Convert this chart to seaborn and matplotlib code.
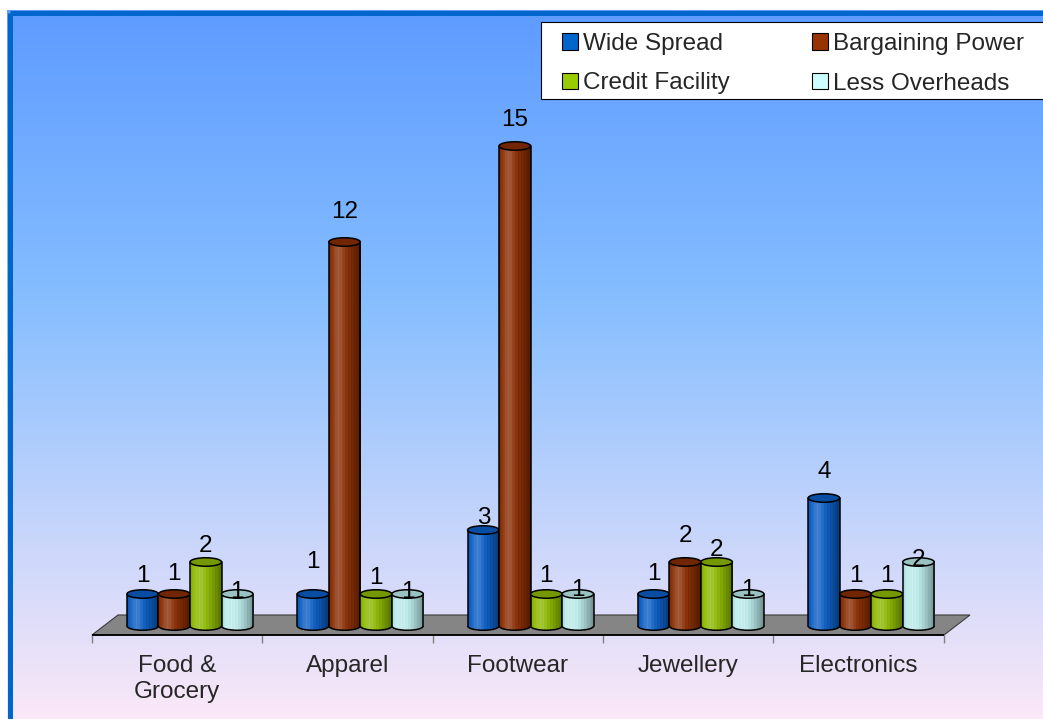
import numpy as np
import pandas as pd
import seaborn as sns
import matplotlib
matplotlib.use("Agg")
import matplotlib.pyplot as plt
from matplotlib.patches import Ellipse, Polygon, Rectangle, Patch, Arc
from matplotlib.colors import to_rgb

# ---------------- data ----------------
categories = ["Food &\nGrocery", "Apparel", "Footwear", "Jewellery", "Electronics"]
series_names = ["Wide Spread", "Bargaining Power", "Credit Facility", "Less Overheads"]
wide_spread = [1, 1, 3, 1, 4]
bargaining_power = [1, 12, 15, 2, 1]
credit_facility = [2, 1, 1, 2, 1]
less_overheads = [1, 1, 1, 1, 2]

# ---------------- style ----------------
legend_colors = ["#0066cc", "#993300", "#99cc00", "#ccffff"]
bar_colors = ["#0a5ec6", "#8a2d02", "#8eba00", "#bcecec"]
# how far (px) each value label sits above its bar top (style only)
label_lift = [[21, 35, 14, 22, 29],
              [23, 33, 29, 29, 21],
              [18, 18, 21, 15, 20],
              [5, 5, 6, 6, 5]]

values = [wide_spread, bargaining_power, credit_facility, less_overheads]
df = pd.DataFrame({
    "category": [c for s in series_names for c in categories],
    "series": [s for s in series_names for c in categories],
    "value": [v for vals in values for v in vals],
})

sns.set_style("white")
plt.rcParams["font.family"] = ["Liberation Sans", "DejaVu Sans"]

W, H = 1043, 719
fig = plt.figure(figsize=(W / 100, H / 100), dpi=100)
fig.patch.set_facecolor("white")

# ---------------- background (gradient + blue frame) ----------------
bg = fig.add_axes([0, 0, 1, 1])
bg.set_zorder(-1)
bg.axis("off")
ys = np.linspace(10, H, 500)
stops_y = [10, 300, H]
stops_c = [to_rgb("#5e9bff"), to_rgb("#86beff"), to_rgb("#fbe8f8")]
grad = np.stack([np.interp(ys, stops_y, [c[k] for c in stops_c]) for k in range(3)], axis=1)
bg.imshow(grad[:, None, :], extent=(7, W, H, 10), aspect="auto", interpolation="bilinear")
bg.add_patch(Rectangle((9.5, 12.5), 1200, 900, fill=False, lw=3.6, edgecolor="#0066cc"))
bg.add_patch(Rectangle((540.5, 21.5), 600, 77, facecolor="white", edgecolor="black", lw=0.8))
bg.set_xlim(0, W)
bg.set_ylim(H, 0)

# ---------------- main axes ----------------
PXU = 32.0          # pixels per value unit
Y0 = 626.0          # pixel row of zero
XC0 = 190.0         # pixel column of category 0
PXC = 170.3         # pixels per category
ax_left_px, ax_right_px = XC0 - 0.7 * PXC, XC0 + 4.7 * PXC
ax_top_px, ax_bot_px = 15.0, 643.0
ax = fig.add_axes([ax_left_px / W, 1 - ax_bot_px / H,
                   (ax_right_px - ax_left_px) / W, (ax_bot_px - ax_top_px) / H])

sns.barplot(data=df, x="category", y="value", hue="series", order=categories,
            hue_order=series_names, palette=bar_colors, width=0.74, saturation=1,
            errorbar=None, legend=False, ax=ax)


def px2x(px):
    return (px - XC0) / PXC


def px2y(py):
    return (Y0 - py) / PXU


# floor
floor = Polygon([(px2x(92), px2y(635)), (px2x(944), px2y(635)),
                 (px2x(970), px2y(615)), (px2x(118), px2y(615))],
                closed=True, facecolor="#858585", edgecolor="#3a3a3a", lw=0.8, zorder=1)
ax.add_patch(floor)
ax.plot([px2x(92), px2x(944)], [px2y(635), px2y(635)], color="black", lw=1.3, zorder=1.1,
        solid_capstyle="butt")


def shade_strip(color, n=90):
    base = np.array(to_rgb(color))
    t = (np.arange(n) + 0.5) / n
    hl = 0.2 * np.exp(-((t - 0.3) / 0.17) ** 2)
    sh = 0.42 * np.clip((t - 0.45) / 0.55, 0, 1) ** 1.4 + 0.12 * np.clip((0.1 - t) / 0.1, 0, 1)
    stripes = 0.05 * np.sin(t * np.pi * 22) * (t > 0.2) * (t < 0.85)
    col = base[None, :] + (1 - base[None, :]) * (hl + np.clip(stripes, 0, None))[:, None] \
        - base[None, :] * (sh + np.clip(-stripes, 0, None))[:, None]
    return np.clip(col, 0, 1)[None, :, :]


EH = 8.5 / PXU  # ellipse height in data units
for j, cont in enumerate(ax.containers):
    z = 3 + j
    strip = shade_strip(bar_colors[j])
    top_col = np.array(to_rgb(bar_colors[j])) * 0.82
    for i, bar in enumerate(cont):
        x0, w, h = bar.get_x(), bar.get_width(), bar.get_height()
        cx = x0 + w / 2
        bar.set_facecolor("none")
        bar.set_edgecolor("none")
        bar.set_zorder(z)
        im = ax.imshow(strip, extent=(x0, x0 + w, -EH, h), aspect="auto",
                       interpolation="bilinear", zorder=z + 0.01)
        im.set_clip_path(bar)
        bot = Ellipse((cx, 0), w, EH, facecolor="none", edgecolor="none", zorder=z)
        ax.add_patch(bot)
        im2 = ax.imshow(strip, extent=(x0, x0 + w, -EH, h), aspect="auto",
                        interpolation="bilinear", zorder=z + 0.01)
        im2.set_clip_path(bot)
        ax.add_patch(Arc((cx, 0), w, EH, theta1=180, theta2=360, color="black",
                         lw=1.1, zorder=z + 0.02))
        ax.plot([x0, x0], [0, h], color="black", lw=1.1, zorder=z + 0.02)
        ax.plot([x0 + w, x0 + w], [0, h], color="black", lw=1.1, zorder=z + 0.02)
        ax.add_patch(Ellipse((cx, h), w, EH, facecolor=top_col, edgecolor="black",
                             lw=1.1, zorder=z + 0.03))
        ax.annotate(f"{values[j][i]:g}", xy=(cx, h),
                    xytext=(0, (label_lift[j][i] - 8.5) * 0.72), textcoords="offset points",
                    ha="center", va="baseline", fontsize=17.5, color="black", zorder=20)

ax.set_xlim(-0.7, 4.7)
ax.set_ylim(px2y(ax_bot_px), px2y(ax_top_px))
ax.set_xticks([i + px2x(177) for i in range(len(categories))])
ax.set_xticklabels(categories, fontsize=17.5)
for lbl in ax.get_xticklabels():
    lbl.set_linespacing(1.25)
ax.set_xticks([k + px2x(92) for k in range(len(categories) + 1)], minor=True)
ax.tick_params(axis="x", which="major", length=0, pad=8.5)
ax.tick_params(axis="x", which="minor", direction="in", length=8 * 0.72, width=1,
               color="#808080", bottom=True)
ax.set_yticks([])
ax.set_xlabel("")
ax.set_ylabel("")
for s in ax.spines.values():
    s.set_visible(False)
ax.patch.set_visible(False)

# ---------------- legend ----------------
handles = [Patch(facecolor=c, edgecolor="black", lw=0.8) for c in legend_colors]
order = [0, 2, 1, 3]
fig.legend([handles[k] for k in order], [series_names[k] for k in order],
           loc="upper left", bbox_to_anchor=(562 / W, 1 - 33 / H), ncol=2,
           frameon=False, fontsize=17.5, handlelength=0.65, handleheight=0.65,
           handletextpad=0.22, columnspacing=3.37, labelspacing=0.72,
           borderpad=0, borderaxespad=0)

fig.savefig("out.png", dpi=100)
